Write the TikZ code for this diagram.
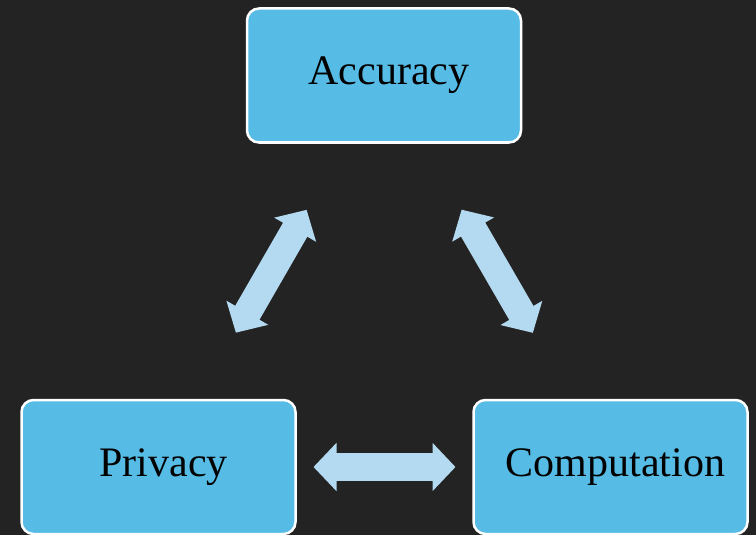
\documentclass[tikz,border=0pt]{standalone}
\usepackage{fontspec}
\setmainfont{Liberation Serif}
\usetikzlibrary{arrows.meta}
\definecolor{boardbg}{HTML}{232323}
\definecolor{boxblue}{HTML}{56BBE5}
\definecolor{arrowblue}{HTML}{B3DAF0}
\tikzset{
  topic/.style={draw=white, line width=2.5pt, fill=boxblue, rounded corners=12pt,
    minimum width=274pt, minimum height=134pt, inner sep=0pt,
    font=\fontsize{42}{46}\selectfont, text=black},
  twoway/.style={draw=arrowblue, line width=28pt,
    {Triangle[length=23pt 0 0, width=47pt 0]}-{Triangle[length=23pt 0 0, width=47pt 0]},
    shorten <=155pt, shorten >=155pt}
}
\begin{document}
\begin{tikzpicture}[x=1pt, y=-1pt]
  \fill[boardbg] (0,0) rectangle (756,535);
  \useasboundingbox (0,0) rectangle (756,535);
  \node[topic] (acc) at (384,75.5) {\hspace*{10pt}Accuracy};
  \node[topic] (pri) at (158.5,467) {\hspace*{10pt}Privacy};
  \node[topic] (com) at (610.5,467) {\hspace*{10pt}Computation};
  \draw[twoway] (pri.center) -- (acc.center);
  \draw[twoway] (com.center) -- (acc.center);
  \draw[twoway] (pri.center) -- (com.center);
\end{tikzpicture}
\end{document}
